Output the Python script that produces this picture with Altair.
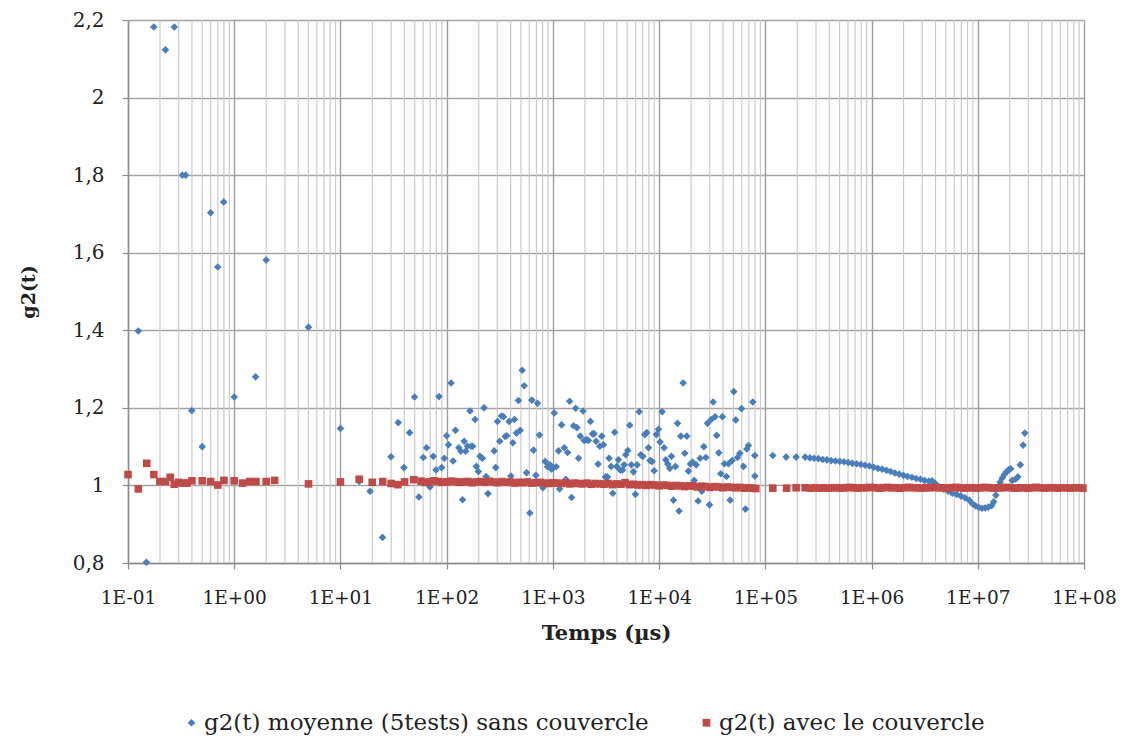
import altair as alt
import pandas as pd

SERIES = ["g2(t) moyenne (5tests) sans couvercle", "g2(t) avec le couvercle"]
COLORS = ["#4A7EBB", "#BE4B48"]
SHAPES = ["diamond", "square"]

# x-axis decades and their labels
x_decades = [0.1, 1, 10, 100, 1e3, 1e4, 1e5, 1e6, 1e7, 1e8]
x_tick_labels = ["1E-01", "1E+00", "1E+01", "1E+02", "1E+03", "1E+04",
                 "1E+05", "1E+06", "1E+07", "1E+08"]
minor_mult = [2, 3, 4, 5, 6, 7, 8, 9]
y_ticks = [0.8, 1.0, 1.2, 1.4, 1.6, 1.8, 2.0, 2.2]

# ---- blue series: g2(t) moyenne (5tests) sans couvercle ----
# sparse early points (t in µs)
blue_t1 = [0.175, 0.273, 0.225, 0.325, 0.349, 0.60, 0.796, 0.70, 2.0, 0.125,
           5.0, 1.59, 1.0, 0.398, 0.50, 10, 0.149, 15, 19]
blue_g1 = [2.182, 2.182, 2.123, 1.80, 1.80, 1.703, 1.731, 1.563, 1.581, 1.398,
           1.408, 1.280, 1.228, 1.193, 1.100, 1.147, 0.802, 1.01, 0.985]

# scattered points 25 µs .. 2e3 µs
blue_t2 = [24.9, 29.9, 35, 39.6, 44.8, 49.9, 54.8, 60.2, 64.7, 69.6,
           74.8, 79.3, 84.7, 89.7, 95, 100, 104, 110, 115, 121,
           130, 136, 141, 146, 151, 157, 166, 170, 176, 185,
           190, 199, 206, 217, 225, 235, 245, 280, 290, 301,
           316, 328, 343, 355, 368, 387, 402, 420, 435, 454,
           474, 492, 514, 537, 565, 607, 634, 657, 692, 716,
           748, 805, 847, 891, 937, 971, 1007, 1030, 1075, 1130,
           1155, 1207, 1280, 1327, 1375, 1436, 1500, 1567, 1637, 1683,
           1746, 1810]
blue_g2 = [0.866, 1.074, 1.162, 1.046, 1.136, 1.228, 0.970, 1.072, 1.097, 0.996,
           1.075, 1.040, 1.229, 1.046, 1.070, 1.128, 1.105, 1.264, 1.063, 1.142,
           1.097, 1.088, 0.963, 1.114, 1.088, 1.101, 1.192, 1.101, 1.101, 1.170,
           1.049, 1.036, 1.075, 1.070, 1.200, 1.023, 0.979, 1.089, 1.046, 1.165,
           1.114, 1.179, 1.177, 1.126, 1.128, 1.165, 1.024, 1.110, 1.170, 1.135,
           1.219, 1.142, 1.297, 1.257, 1.033, 0.929, 1.220, 1.091, 1.026, 1.212,
           1.130, 0.994, 1.062, 1.048, 1.053, 1.042, 1.046, 1.187, 1.048, 1.089,
           0.991, 1.156, 1.097, 1.016, 1.085, 1.217, 0.969, 1.154, 1.199, 1.149,
           1.070, 1.127]

# scattered points 2e3 µs .. 8e4 µs
blue_t3 = [1923, 1968, 2070, 2163, 2256, 2357, 2444, 2551, 2666, 2763,
           2884, 2990, 3124, 3262, 3382, 3531, 3662, 3822, 3990, 4138,
           4323, 4514, 4680, 4856, 5070, 5290, 5486, 5729, 5981, 6206,
           6480, 6721, 7018, 7327, 7652, 7940, 8228, 8590, 8977, 9440,
           9860, 10214, 10670, 11140, 11560, 12070, 12600, 13060, 13650, 14260,
           14900, 15420, 16000, 16830, 17460, 18210, 18880, 19720, 20600, 21370,
           22300, 23300, 24330, 25230, 26360, 27540, 28540, 29800, 30900, 32230,
           33660, 34900, 36460, 38040, 39450, 41200, 43040, 44960, 46630, 48680,
           50470, 52700, 54660, 57520, 59620, 62260, 65030, 66960, 69380, 76200,
           79620, 79620]
blue_g3 = [1.192, 1.116, 1.118, 1.116, 1.165, 1.133, 1.133, 1.114, 1.055, 1.101,
           1.127, 1.105, 1.022, 1.022, 1.070, 1.049, 0.980, 1.137, 1.049, 1.066,
           1.039, 1.040, 1.053, 1.079, 1.090, 1.155, 1.053, 1.035, 0.977, 1.053,
           1.190, 1.079, 1.075, 1.131, 1.136, 1.097, 1.064, 1.062, 1.038, 1.131,
           1.145, 1.112, 1.190, 1.097, 1.066, 1.055, 1.044, 1.075, 0.962, 1.049,
           1.160, 0.934, 1.127, 1.264, 1.083, 1.127, 1.037, 1.055, 1.060, 1.013,
           1.053, 0.960, 1.070, 0.985, 1.100, 1.072, 1.160, 0.950, 1.170, 1.215,
           1.177, 1.129, 1.084, 1.030, 1.177, 1.056, 1.023, 1.056, 0.962, 1.064,
           1.242, 1.169, 1.072, 1.083, 1.198, 1.049, 0.939, 1.094, 1.103, 1.215,
           1.077, 1.024]

# smooth part, given as log10(t)
blue_logt4 = [5.07, 5.196, 5.29, 5.375, 5.42, 5.46, 5.50, 5.54, 5.58, 5.62,
              5.66, 5.70, 5.74, 5.78, 5.82, 5.86, 5.90, 5.94, 5.98, 6.02,
              6.06, 6.10, 6.14, 6.18, 6.22, 6.26, 6.30, 6.34, 6.38, 6.42,
              6.46, 6.50, 6.54, 6.57, 6.60, 6.64, 6.68, 6.72, 6.76, 6.80,
              6.84, 6.88, 6.92, 6.95, 6.98, 7.01, 7.04, 7.07, 7.10, 7.13,
              7.15, 7.17, 7.19, 7.21, 7.23, 7.25, 7.27, 7.29, 7.31, 7.325,
              7.355, 7.377, 7.40, 7.427, 7.443]
blue_g4 = [1.077, 1.073, 1.073, 1.073, 1.071, 1.070, 1.069, 1.067, 1.066, 1.064,
           1.063, 1.062, 1.061, 1.059, 1.057, 1.056, 1.054, 1.052, 1.050, 1.047,
           1.044, 1.042, 1.039, 1.036, 1.032, 1.029, 1.026, 1.023, 1.021, 1.018,
           1.016, 1.013, 1.011, 1.012, 1.005, 0.996, 0.990, 0.985, 0.980, 0.977,
           0.973, 0.968, 0.962, 0.953, 0.947, 0.943, 0.941, 0.942, 0.944, 0.948,
           0.958, 0.975, 0.993, 1.008, 1.019, 1.028, 1.035, 1.040, 1.043, 1.013,
           1.016, 1.022, 1.053, 1.104, 1.135]

# ---- red series: g2(t) avec le couvercle ----
red_t1 = [0.1, 0.125, 0.15, 0.175, 0.2, 0.225, 0.25, 0.273, 0.3, 0.33,
          0.36, 0.4, 0.5, 0.6, 0.7, 0.8, 1.0, 1.2, 1.4, 1.6,
          2.0, 2.4, 5.0, 10, 15, 19.9, 25, 30, 34.7, 40.2,
          49]
red_g1 = [1.028, 0.991, 1.057, 1.028, 1.010, 1.010, 1.021, 1.003, 1.008, 1.006,
          1.006, 1.012, 1.012, 1.010, 1.001, 1.013, 1.012, 1.006, 1.010, 1.010,
          1.010, 1.013, 1.004, 1.009, 1.016, 1.008, 1.010, 1.005, 1.002, 1.009,
          1.015]

red_logt2 = [1.76, 1.80, 1.84, 1.88, 1.92, 1.96, 2.00, 2.04, 2.08, 2.12,
             2.16, 2.20, 2.24, 2.28, 2.32, 2.36, 2.40, 2.44, 2.48, 2.52,
             2.56, 2.60, 2.64, 2.68, 2.72, 2.76, 2.80, 2.84, 2.88, 2.92,
             2.96, 3.00, 3.04, 3.08, 3.12, 3.16, 3.20, 3.24, 3.28, 3.32,
             3.36, 3.40, 3.44, 3.48, 3.52, 3.56, 3.60, 3.64, 3.68, 3.72,
             3.76, 3.80, 3.84, 3.88, 3.92, 3.96, 4.00, 4.04, 4.08, 4.12,
             4.16, 4.20, 4.24, 4.28, 4.32, 4.36, 4.40, 4.44, 4.48, 4.52,
             4.56, 4.60, 4.64, 4.68, 4.72, 4.76, 4.80, 4.84, 4.88, 4.91]
red_g2 = [1.011, 1.008, 1.009, 1.012, 1.010, 1.008, 1.009, 1.011, 1.010, 1.008,
          1.009, 1.010, 1.007, 1.009, 1.010, 1.008, 1.011, 1.009, 1.007, 1.010,
          1.008, 1.009, 1.006, 1.008, 1.007, 1.009, 1.006, 1.007, 1.008, 1.006,
          1.005, 1.007, 1.006, 1.005, 1.007, 1.004, 1.006, 1.005, 1.004, 1.006,
          1.003, 1.005, 1.004, 1.003, 1.005, 1.002, 1.004, 1.003, 1.007, 1.002,
          1.003, 1.001, 1.002, 1.000, 1.002, 1.001, 0.999, 1.001, 1.000, 0.998,
          1.000, 0.999, 0.997, 0.999, 0.998, 0.996, 0.998, 0.997, 0.995, 0.997,
          0.996, 0.994, 0.996, 0.995, 0.994, 0.995, 0.993, 0.994, 0.993, 0.992]

red_logt3 = [5.07, 5.20, 5.29, 5.375,
             5.43, 5.47, 5.51, 5.55, 5.59, 5.63, 5.67, 5.71, 5.75, 5.79,
             5.83, 5.87, 5.91, 5.95, 5.99, 6.03, 6.07, 6.11, 6.15, 6.19,
             6.23, 6.27, 6.31, 6.35, 6.39, 6.43, 6.47, 6.51, 6.55, 6.59,
             6.63, 6.67, 6.71, 6.75, 6.79, 6.83, 6.87, 6.91, 6.95, 6.99,
             7.03, 7.07, 7.11, 7.15, 7.19, 7.23, 7.27, 7.31, 7.35, 7.39,
             7.43, 7.47, 7.51, 7.55, 7.59, 7.63, 7.67, 7.71, 7.75, 7.79,
             7.83, 7.87, 7.91, 7.95, 7.99]
red_g3 = [0.993, 0.993, 0.994, 0.994,
          0.993, 0.994, 0.993, 0.994, 0.993, 0.994, 0.994, 0.993, 0.994, 0.995,
          0.994, 0.993, 0.994, 0.994, 0.995, 0.994, 0.993, 0.994, 0.995, 0.994,
          0.994, 0.993, 0.994, 0.995, 0.994, 0.994, 0.993, 0.994, 0.994, 0.995,
          0.994, 0.994, 0.993, 0.994, 0.995, 0.994, 0.993, 0.994, 0.994, 0.993,
          0.994, 0.995, 0.994, 0.993, 0.994, 0.994, 0.995, 0.994, 0.993, 0.994,
          0.994, 0.993, 0.994, 0.995, 0.994, 0.993, 0.994, 0.994, 0.993, 0.994,
          0.994, 0.993, 0.994, 0.994, 0.993]

# ---- build table ----
blue_t = blue_t1 + blue_t2 + blue_t3 + [10 ** v for v in blue_logt4]
blue_g = blue_g1 + blue_g2 + blue_g3 + blue_g4
red_t = red_t1 + [10 ** v for v in red_logt2] + [10 ** v for v in red_logt3]
red_g = red_g1 + red_g2 + red_g3

df = pd.concat([
    pd.DataFrame({"t": blue_t, "g": blue_g, "serie": SERIES[0]}),
    pd.DataFrame({"t": red_t, "g": red_g, "serie": SERIES[1]}),
], ignore_index=True)

minor_df = pd.DataFrame({"t": [d * m for d in x_decades[:-1] for m in minor_mult]})

FONT = "DejaVu Serif"
W, H = 956, 543

xscale = alt.Scale(type="log", domain=[x_decades[0], x_decades[-1]], nice=False)
yscale = alt.Scale(domain=[y_ticks[0], y_ticks[-1]], nice=False, zero=False)

label_arr = "[" + ",".join("'%s'" % s for s in x_tick_labels) + "]"
x_label_expr = label_arr + "[round(log(datum.value)/LN10)+1]"

x_axis = alt.Axis(values=x_decades, labelExpr=x_label_expr,
                  grid=True, gridColor="#9E9E9E", gridWidth=1.4,
                  domainColor="#8C8C8C", domainWidth=1.4,
                  tickColor="#8C8C8C", tickSize=6, tickWidth=1.2,
                  labelFont=FONT, labelFontSize=18.5, labelColor="#222222",
                  labelPadding=19, labelFlush=False, labelOverlap=False,
                  titleFont=FONT, titleFontSize=21, titleFontWeight="bold",
                  titleColor="#222222", titlePadding=16)

grid_minor = alt.Chart(minor_df).mark_rule(color="#CACACA", strokeWidth=1.2).encode(
    x=alt.X("t:Q", scale=xscale, title="Temps (µs)", axis=x_axis)
)

legend = alt.Legend(
    title=None, orient="none", legendX=52, legendY=691, direction="horizontal",
    labelFont=FONT, labelFontSize=23, labelColor="#222222", labelLimit=800,
    symbolSize=60, labelOffset=1, columnPadding=46, symbolStrokeWidth=0,
)

points = alt.Chart(df).mark_point(filled=True, opacity=1, size=58, strokeWidth=0).encode(
    x=alt.X("t:Q", scale=xscale, title="Temps (µs)", axis=x_axis),
    y=alt.Y("g:Q", scale=yscale, title="g2(t)",
            axis=alt.Axis(values=y_ticks,
                          labelExpr="replace(format(datum.value, '.1~f'), '.', ',')",
                          grid=True, gridColor="#A3A3A3", gridWidth=1.4,
                          domainColor="#8C8C8C", domainWidth=1.4,
                          tickColor="#8C8C8C", tickSize=6, tickWidth=1.2,
                          labelFont=FONT, labelFontSize=20, labelColor="#222222",
                          labelPadding=18,
                          titleFont=FONT, titleFontSize=19, titleFontWeight="bold",
                          titleColor="#222222", titlePadding=34)),
    color=alt.Color("serie:N", scale=alt.Scale(domain=SERIES, range=COLORS), legend=legend),
    shape=alt.Shape("serie:N", scale=alt.Scale(domain=SERIES, range=SHAPES), legend=legend),
)

chart = alt.layer(grid_minor, points).properties(
    width=W, height=H,
    autosize=alt.AutoSizeParams(type="none"),
    padding={"left": 120, "top": 12, "right": 32, "bottom": 172},
).configure_view(stroke=None).configure(background="white")

chart.save("out.html", embed_options={"renderer": "svg", "actions": False})
